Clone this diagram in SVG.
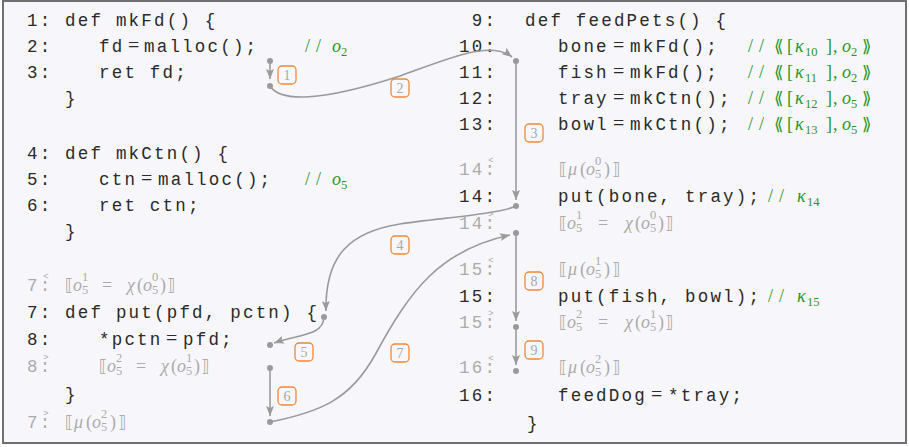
<svg xmlns="http://www.w3.org/2000/svg" width="909" height="447" viewBox="0 0 909 447">
<style>
.c{font-family:"Liberation Mono",monospace;font-size:17.5px;letter-spacing:2.2px;fill:#2a2a2a}
.gy{fill:#ababab}
.eq{font-family:"Liberation Serif",serif;font-size:20px;fill:#2a2a2a}
.m{font-family:"Liberation Serif","DejaVu Serif",serif;font-size:18px}
.i{font-style:italic}
.s{font-size:12.5px;font-style:normal}
.br{font-family:"DejaVu Sans",sans-serif;font-size:17px;font-style:normal}
.gm{fill:#ababab}
.gr{fill:#2a962a}
.sl{font-family:"Liberation Serif",serif;font-size:18px;fill:#2a962a}
.mk{font-family:"Liberation Sans",sans-serif;font-size:9px;letter-spacing:0;fill:#ababab;text-anchor:middle}
.lb rect{fill:none;stroke:#f08838;stroke-width:1.3}
.lb text{font-family:"Liberation Serif",serif;font-size:14px;fill:#a8a8a8;text-anchor:middle}
.cn path{fill:none;stroke:#9a9a9a;stroke-width:1.6;marker-end:url(#ah)}
.cn circle{fill:#9a9a9a}
</style>
<defs>
<marker id="ah" viewBox="0 0 10 8" refX="10" refY="4" markerWidth="10" markerHeight="8" markerUnits="userSpaceOnUse" orient="auto"><path d="M0,0 L10,4 L0,8 L2,4 z" fill="#9a9a9a" stroke="none"/></marker>
</defs>
<rect x="0" y="0" width="909" height="447" fill="#ffffff"/>
<rect x="3" y="1" width="903" height="442" fill="#f7f7fb" stroke="#707070" stroke-width="2"/>

<g id="mkFd">
<text class="c" x="27" y="26">1: def mkFd() {</text>
<text class="c" x="27" y="52">2:</text>
<text class="c" x="99" y="52">fd</text><text class="eq" x="128" y="52">=</text><text class="c" x="144" y="52">malloc();</text>
<text class="sl" x="305" y="52">/</text><text class="sl" x="316" y="52">/</text>
<text class="m gr" y="52"><tspan class="i" x="332">o</tspan><tspan class="s" x="341" y="56">2</tspan></text>
<text class="c" x="27" y="78">3:</text>
<text class="c" x="99" y="78">ret fd;</text>
<text class="c" x="65" y="104">}</text>
</g>

<g id="mkCtn">
<text class="c" x="27" y="159">4: def mkCtn() {</text>
<text class="c" x="27" y="185">5:</text>
<text class="c" x="99" y="185">ctn</text><text class="eq" x="141" y="185">=</text><text class="c" x="158" y="185">malloc();</text>
<text class="sl" x="305" y="185">/</text><text class="sl" x="316" y="185">/</text>
<text class="m gr" y="185"><tspan class="i" x="332">o</tspan><tspan class="s" x="341" y="189">5</tspan></text>
<text class="c" x="27" y="211">6:</text>
<text class="c" x="99" y="211">ret ctn;</text>
<text class="c" x="65" y="237">}</text>
</g>

<g id="put">
<text class="c gy" x="27" y="291">7:<tspan class="mk" x="46" y="279">&lt;</tspan></text>
<text class="m gm" y="291"><tspan class="br" x="65">⟦</tspan><tspan class="i" x="73">o</tspan><tspan class="s" x="82" y="281">1</tspan><tspan class="s" x="82" y="294">5</tspan><tspan x="102" y="291">=</tspan><tspan class="i" x="127">χ</tspan><tspan x="137">(</tspan><tspan class="i" x="143">o</tspan><tspan class="s" x="152" y="281">0</tspan><tspan class="s" x="152" y="294">5</tspan><tspan x="160" y="291">)</tspan><tspan class="br" x="167">⟧</tspan></text>
<text class="c" x="27" y="318">7: def put(pfd, pctn) {</text>
<text class="c" x="27" y="345">8:</text>
<text class="c" x="99" y="345">*pctn</text><text class="eq" x="166" y="345">=</text><text class="c" x="183" y="345">pfd;</text>
<text class="c gy" x="27" y="372">8:<tspan class="mk" x="46" y="360">&gt;</tspan></text>
<text class="m gm" y="372"><tspan class="br" x="99">⟦</tspan><tspan class="i" x="107">o</tspan><tspan class="s" x="116" y="362">2</tspan><tspan class="s" x="116" y="375">5</tspan><tspan x="136" y="372">=</tspan><tspan class="i" x="161">χ</tspan><tspan x="171">(</tspan><tspan class="i" x="177">o</tspan><tspan class="s" x="186" y="362">1</tspan><tspan class="s" x="186" y="375">5</tspan><tspan x="194" y="372">)</tspan><tspan class="br" x="201">⟧</tspan></text>
<text class="c" x="65" y="400">}</text>
<text class="c gy" x="27" y="428">7:<tspan class="mk" x="46" y="416">&gt;</tspan></text>
<text class="m gm" y="428"><tspan class="br" x="65">⟦</tspan><tspan class="i" x="74">μ</tspan><tspan x="86">(</tspan><tspan class="i" x="92">o</tspan><tspan class="s" x="101" y="418">2</tspan><tspan class="s" x="101" y="431">5</tspan><tspan x="110" y="428">)</tspan><tspan class="br" x="118">⟧</tspan></text>
</g>

<g id="feedPets">
<text class="c" x="471.7" y="26">9:</text><text class="c" x="525" y="26">def feedPets() {</text>

<text class="c" x="459" y="52">10:</text>
<text class="c" x="558" y="52">bone</text><text class="eq" x="613" y="52">=</text><text class="c" x="630" y="52">mkFd();</text>
<text class="sl" x="748" y="52">/</text><text class="sl" x="759" y="52">/</text>
<text class="m gr" y="52"><tspan class="br" x="774">⟪</tspan><tspan x="787">[</tspan><tspan class="i" x="795">κ</tspan><tspan class="s" x="805" y="56">10</tspan><tspan x="826" y="52">]</tspan><tspan x="833">,</tspan><tspan class="i" x="842">o</tspan><tspan class="s" x="851" y="56">2</tspan><tspan class="br" x="862" y="52">⟫</tspan></text>

<text class="c" x="459" y="78">11:</text>
<text class="c" x="558" y="78">fish</text><text class="eq" x="613" y="78">=</text><text class="c" x="630" y="78">mkFd();</text>
<text class="sl" x="748" y="78">/</text><text class="sl" x="759" y="78">/</text>
<text class="m gr" y="78"><tspan class="br" x="774">⟪</tspan><tspan x="787">[</tspan><tspan class="i" x="795">κ</tspan><tspan class="s" x="805" y="82">11</tspan><tspan x="826" y="78">]</tspan><tspan x="833">,</tspan><tspan class="i" x="842">o</tspan><tspan class="s" x="851" y="82">2</tspan><tspan class="br" x="862" y="78">⟫</tspan></text>

<text class="c" x="459" y="104">12:</text>
<text class="c" x="558" y="104">tray</text><text class="eq" x="613" y="104">=</text><text class="c" x="630" y="104">mkCtn();</text>
<text class="sl" x="748" y="104">/</text><text class="sl" x="759" y="104">/</text>
<text class="m gr" y="104"><tspan class="br" x="774">⟪</tspan><tspan x="787">[</tspan><tspan class="i" x="795">κ</tspan><tspan class="s" x="805" y="108">12</tspan><tspan x="826" y="104">]</tspan><tspan x="833">,</tspan><tspan class="i" x="842">o</tspan><tspan class="s" x="851" y="108">5</tspan><tspan class="br" x="862" y="104">⟫</tspan></text>

<text class="c" x="459" y="130">13:</text>
<text class="c" x="558" y="130">bowl</text><text class="eq" x="613" y="130">=</text><text class="c" x="630" y="130">mkCtn();</text>
<text class="sl" x="748" y="130">/</text><text class="sl" x="759" y="130">/</text>
<text class="m gr" y="130"><tspan class="br" x="774">⟪</tspan><tspan x="787">[</tspan><tspan class="i" x="795">κ</tspan><tspan class="s" x="805" y="134">13</tspan><tspan x="826" y="130">]</tspan><tspan x="833">,</tspan><tspan class="i" x="842">o</tspan><tspan class="s" x="851" y="134">5</tspan><tspan class="br" x="862" y="130">⟫</tspan></text>

<text class="c gy" x="459" y="175">14:<tspan class="mk" x="491" y="163">&lt;</tspan></text>
<text class="m gm" y="175"><tspan class="br" x="559">⟦</tspan><tspan class="i" x="568">μ</tspan><tspan x="580">(</tspan><tspan class="i" x="586">o</tspan><tspan class="s" x="595" y="165">0</tspan><tspan class="s" x="595" y="178">5</tspan><tspan x="604" y="175">)</tspan><tspan class="br" x="612">⟧</tspan></text>

<text class="c" x="459" y="202">14:</text>
<text class="c" x="558" y="202">put(bone, tray);</text>
<text class="sl" x="768" y="202">/</text><text class="sl" x="779" y="202">/</text>
<text class="m gr" y="202"><tspan class="i" x="797">κ</tspan><tspan class="s" x="807" y="206">14</tspan></text>

<text class="c gy" x="459" y="229">14:<tspan class="mk" x="491" y="217">&gt;</tspan></text>
<text class="m gm" y="229"><tspan class="br" x="559">⟦</tspan><tspan class="i" x="567">o</tspan><tspan class="s" x="576" y="219">1</tspan><tspan class="s" x="576" y="232">5</tspan><tspan x="598" y="229">=</tspan><tspan class="i" x="625">χ</tspan><tspan x="635">(</tspan><tspan class="i" x="641">o</tspan><tspan class="s" x="650" y="219">0</tspan><tspan class="s" x="650" y="232">5</tspan><tspan x="658" y="229">)</tspan><tspan class="br" x="665">⟧</tspan></text>

<text class="c gy" x="459" y="275">15:<tspan class="mk" x="491" y="263">&lt;</tspan></text>
<text class="m gm" y="275"><tspan class="br" x="559">⟦</tspan><tspan class="i" x="568">μ</tspan><tspan x="580">(</tspan><tspan class="i" x="586">o</tspan><tspan class="s" x="595" y="265">1</tspan><tspan class="s" x="595" y="278">5</tspan><tspan x="604" y="275">)</tspan><tspan class="br" x="612">⟧</tspan></text>

<text class="c" x="459" y="302">15:</text>
<text class="c" x="558" y="302">put(fish, bowl);</text>
<text class="sl" x="768" y="302">/</text><text class="sl" x="779" y="302">/</text>
<text class="m gr" y="302"><tspan class="i" x="797">κ</tspan><tspan class="s" x="807" y="306">15</tspan></text>

<text class="c gy" x="459" y="328">15:<tspan class="mk" x="491" y="316">&gt;</tspan></text>
<text class="m gm" y="328"><tspan class="br" x="559">⟦</tspan><tspan class="i" x="567">o</tspan><tspan class="s" x="576" y="318">2</tspan><tspan class="s" x="576" y="331">5</tspan><tspan x="598" y="328">=</tspan><tspan class="i" x="625">χ</tspan><tspan x="635">(</tspan><tspan class="i" x="641">o</tspan><tspan class="s" x="650" y="318">1</tspan><tspan class="s" x="650" y="331">5</tspan><tspan x="658" y="328">)</tspan><tspan class="br" x="665">⟧</tspan></text>

<text class="c gy" x="459" y="373">16:<tspan class="mk" x="491" y="361">&lt;</tspan></text>
<text class="m gm" y="373"><tspan class="br" x="559">⟦</tspan><tspan class="i" x="568">μ</tspan><tspan x="580">(</tspan><tspan class="i" x="586">o</tspan><tspan class="s" x="595" y="363">2</tspan><tspan class="s" x="595" y="376">5</tspan><tspan x="604" y="373">)</tspan><tspan class="br" x="612">⟧</tspan></text>

<text class="c" x="459" y="401">16:</text>
<text class="c" x="558" y="401">feedDog</text><text class="eq" x="651" y="401">=</text><text class="c" x="668" y="401">*tray;</text>
<text class="c" x="527" y="429">}</text>
</g>

<g id="connectors" class="cn">
<path d="M270,61 L270,79"/>
<path d="M270,86 C280,102 320,102 400,76 C450,58 490,40 512,57"/>
<path d="M516,61 L516,200"/>
<path d="M516,206 C500,214 440,218 400,224 C350,232 325,255 326,311"/>
<path d="M324,317 C323,336 300,334 274,343"/>
<path d="M270,368 L270,416"/>
<path d="M270,422 C320,412 350,400 375,355 C410,290 440,250 510,235"/>
<path d="M516,233 L516,321"/>
<path d="M516,327 L516,365"/>
<circle cx="270" cy="61" r="3"/>
<circle cx="270" cy="86" r="3"/>
<circle cx="516" cy="61" r="3"/>
<circle cx="516" cy="206" r="3"/>
<circle cx="324" cy="317" r="3"/>
<circle cx="270" cy="345" r="3"/>
<circle cx="270" cy="368" r="3"/>
<circle cx="270" cy="422" r="3"/>
<circle cx="516" cy="233" r="3"/>
<circle cx="516" cy="327" r="3"/>
<circle cx="516" cy="371" r="3"/>
</g>

<g id="labels" class="lb">
<g id="step1"><rect x="278" y="66" width="18" height="18" rx="4"/><text x="287" y="80">1</text></g>
<g id="step2"><rect x="391" y="79" width="18" height="18" rx="4"/><text x="400" y="93">2</text></g>
<g id="step3"><rect x="525" y="124" width="18" height="18" rx="4"/><text x="534" y="138">3</text></g>
<g id="step4"><rect x="391" y="236" width="18" height="18" rx="4"/><text x="400" y="250">4</text></g>
<g id="step5"><rect x="295" y="343" width="18" height="18" rx="4"/><text x="304" y="357">5</text></g>
<g id="step6"><rect x="278" y="387" width="18" height="18" rx="4"/><text x="287" y="401">6</text></g>
<g id="step7"><rect x="391" y="344" width="18" height="18" rx="4"/><text x="400" y="358">7</text></g>
<g id="step8"><rect x="525" y="272" width="18" height="18" rx="4"/><text x="534" y="286">8</text></g>
<g id="step9"><rect x="525" y="341" width="18" height="18" rx="4"/><text x="534" y="355">9</text></g>
</g>
</svg>
